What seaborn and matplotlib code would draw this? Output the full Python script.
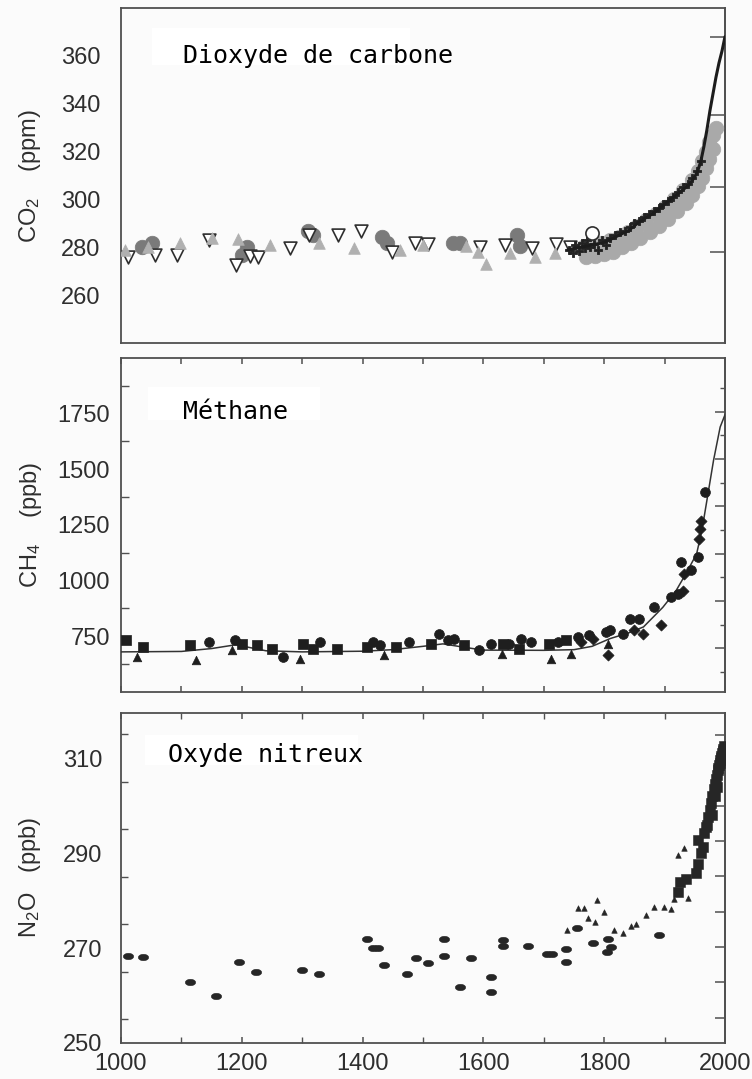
import numpy as np
import matplotlib
matplotlib.use("Agg")
import matplotlib.pyplot as plt
import seaborn as sns
from matplotlib.ticker import MultipleLocator, NullFormatter, FixedLocator
from matplotlib.patches import Rectangle
from matplotlib.path import Path

# ---------------- CO2 (ppm) ----------------
co2_tri_open_year = [1011, 1056, 1092, 1145, 1191, 1213, 1227, 1280, 1312, 1360, 1398,
                     1448, 1487, 1509, 1594, 1636, 1680, 1721, 1743]
co2_tri_open_ppm = [276.0, 276.6, 276.6, 283.0, 272.4, 276.5, 276.0, 279.6, 285.0, 285.0, 287.0,
                    278.0, 282.0, 281.5, 280.0, 281.0, 279.5, 281.5, 280.0]

co2_tri_gray_year = [1007, 1045, 1098, 1150, 1194, 1247, 1327, 1385, 1462, 1500,
                     1572, 1591, 1605, 1644, 1685, 1718]
co2_tri_gray_ppm = [278.7, 280.0, 282.0, 284.0, 283.6, 281.0, 282.0, 279.5, 278.7, 281.0,
                    280.5, 278.0, 273.0, 277.5, 276.0, 277.5]

co2_circle_year = [1034, 1051, 1200, 1208, 1310, 1318, 1432, 1440, 1550, 1562, 1655, 1660]
co2_circle_ppm = [280.0, 282.0, 276.6, 280.0, 287.0, 285.0, 284.3, 282.0, 282.0, 282.0, 285.0, 280.5]

co2_open_circle_year = [1779]
co2_open_circle_ppm = [286.0]

co2_band_year = [1765, 1780, 1795, 1810, 1825, 1840, 1855, 1870, 1885, 1900, 1915, 1930,
                 1945, 1955, 1962, 1968, 1974, 1980, 1985,
                 1770, 1785, 1800, 1815, 1830, 1845, 1860, 1875, 1890, 1905, 1920, 1935,
                 1945, 1955, 1962, 1968, 1974, 1980]
co2_band_ppm = [280.0, 281.0, 282.0, 283.0, 284.5, 286.5, 289.0, 291.5, 294.0, 297.0, 300.0, 304.0,
                308.0, 312.0, 316.0, 320.0, 324.0, 327.0, 330.0,
                276.0, 276.5, 277.0, 278.0, 280.0, 282.0, 284.0, 286.5, 289.0, 292.0, 295.0, 298.5,
                302.0, 305.5, 309.0, 313.0, 317.0, 321.0]

co2_dark_year = [1742, 1748, 1752, 1758, 1763, 1768, 1772, 1777, 1783, 1790, 1796, 1803, 1810,
                 1818, 1826, 1834, 1842, 1850, 1858, 1866, 1874, 1882, 1890, 1898, 1906, 1914,
                 1922, 1930, 1938, 1946, 1954, 1960]
co2_dark_ppm = [279.0, 277.5, 281.0, 278.5, 282.0, 279.5, 283.0, 280.0, 281.5, 279.0, 283.0, 281.0,
                284.0, 285.0, 286.5, 287.0, 288.5, 290.0, 291.0, 292.5, 294.0, 295.0, 296.5, 298.0,
                299.5, 301.0, 303.0, 305.0, 306.5, 309.0, 312.0, 316.0]

co2_line_year = [1740, 1760, 1780, 1800, 1820, 1840, 1860, 1880, 1900, 1920, 1940, 1950,
                 1955, 1960, 1965, 1970, 1975, 1980, 1985, 1990, 1995, 2000]
co2_line_ppm = [279.0, 280.0, 281.0, 282.0, 284.5, 287.0, 291.0, 294.0, 298.0, 302.0, 306.0, 309.5,
                312.0, 316.0, 322.0, 329.0, 337.0, 344.0, 351.0, 357.0, 362.0, 368.0]

# ---------------- CH4 (ppb) ----------------
ch4_square_year = [1008, 1037, 1114, 1200, 1225, 1250, 1302, 1318, 1357, 1407, 1455, 1513,
                   1568, 1632, 1659, 1709, 1737]
ch4_square_ppb = [732, 702, 710, 717, 710, 695, 717, 695, 695, 702, 702, 717,
                  710, 717, 695, 717, 732]

ch4_circle_year = [1145, 1189, 1269, 1329, 1418, 1428, 1477, 1527, 1541, 1552, 1593, 1613,
                   1643, 1662, 1679, 1723, 1756, 1775, 1803, 1809, 1831, 1842, 1858, 1883,
                   1911, 1922, 1927, 1943, 1955, 1967]
ch4_circle_ppb = [725, 732, 657, 725, 725, 710, 725, 762, 732, 740, 687, 717,
                  717, 740, 725, 725, 747, 754, 770, 777, 762, 829, 829, 881,
                  926, 940, 1083, 1046, 1106, 1397]

ch4_tri_year = [1026, 1125, 1183, 1296, 1436, 1630, 1712, 1745, 1806]
ch4_tri_ppb = [657, 642, 687, 650, 665, 672, 650, 672, 717]

ch4_diamond_year = [1762, 1781, 1806, 1850, 1864, 1894, 1930, 1932, 1957, 1958, 1961]
ch4_diamond_ppb = [725, 740, 665, 777, 762, 799, 955, 1031, 1188, 1233, 1270]

ch4_line_year = [1000, 1100, 1150, 1190, 1240, 1300, 1400, 1450, 1500, 1533, 1570, 1600,
                 1700, 1750, 1780, 1810, 1840, 1865, 1897, 1919, 1935, 1953, 1962, 1970,
                 1981, 1992, 2000]
ch4_line_ppb = [680, 682, 695, 712, 685, 680, 683, 690, 705, 716, 700, 688,
                687, 690, 705, 740, 765, 792, 880, 955, 1030, 1120, 1230, 1360,
                1540, 1690, 1745]

# ---------------- N2O (ppb) ----------------
n2o_ice_year = [1011, 1037, 1114, 1158, 1196, 1224, 1300, 1328, 1408, 1418, 1425, 1436,
                1473, 1488, 1509, 1535, 1535, 1561, 1579, 1613, 1613, 1632, 1633, 1674,
                1706, 1714, 1737, 1737, 1755, 1781, 1806, 1805, 1812, 1890]
n2o_ice_ppb = [268.3, 268.2, 262.9, 259.9, 267.1, 265.0, 265.4, 264.5, 271.8, 270.0, 270.0, 266.4,
               264.5, 267.8, 266.8, 271.9, 268.4, 261.7, 268.0, 263.8, 260.8, 270.5, 271.7, 270.4,
               268.7, 268.7, 269.8, 267.1, 274.3, 271.0, 272.0, 269.2, 270.2, 272.7]

n2o_tri_year = [1738, 1756, 1767, 1773, 1785, 1788, 1800, 1817, 1831, 1845, 1853, 1870,
                1883, 1899, 1910, 1916, 1922, 1932, 1939]
n2o_tri_ppb = [273.8, 278.4, 278.4, 276.4, 275.4, 280.1, 277.6, 273.8, 273.2, 274.6, 275.0, 277.0,
               278.6, 278.6, 278.2, 280.3, 289.6, 291.0, 280.5]

n2o_recent_year = [1922, 1925, 1935, 1952, 1955, 1955, 1960, 1963, 1966, 1968, 1970, 1972,
                   1975, 1977, 1978, 1979, 1981, 1983, 1984, 1985, 1986, 1987, 1988, 1989,
                   1990, 1991, 1992, 1993, 1994, 1995, 1996, 1997, 1998]
n2o_recent_ppb = [281.9, 284.0, 284.5, 285.7, 287.8, 292.7, 290.0, 291.3, 294.2, 295.5, 296.0, 297.5,
                  299.0, 300.5, 298.0, 302.0, 303.5, 304.5, 302.0, 305.5, 306.5, 304.0, 307.5, 308.0,
                  308.5, 309.0, 309.5, 310.0, 310.5, 311.0, 311.5, 312.0, 312.5]

BG = "#fbfbfb"
INK = "#2e2e2e"
SPINE = "#505050"

sns.set_theme(style="white")
plt.rcParams["font.family"] = ["Liberation Sans", "DejaVu Sans"]
plt.rcParams["mathtext.fontset"] = "custom"
plt.rcParams["mathtext.rm"] = "Liberation Sans"
plt.rcParams["mathtext.it"] = "Liberation Sans:italic"
plt.rcParams["mathtext.bf"] = "Liberation Sans:bold"

fig = plt.figure(figsize=(7.52, 10.79), dpi=100, facecolor=BG)
ax_co2 = fig.add_axes([0.1609, 0.6821, 0.8032, 0.3105])
ax_ch4 = fig.add_axes([0.1609, 0.3587, 0.8032, 0.3095])
ax_n2o = fig.add_axes([0.1609, 0.0334, 0.8032, 0.3058])

for ax in (ax_co2, ax_ch4, ax_n2o):
    ax.set_facecolor(BG)
    ax.set_xlim(1000, 2000)
    for sp in ax.spines.values():
        sp.set_color(SPINE)
        sp.set_linewidth(1.3)
    ax.tick_params(colors=SPINE, labelcolor=INK, labelsize=17, direction="in", width=1.1)
    ax.set_xlabel("")


def label_box(ax, x0, y0, x1, y1, text, tx, ty):
    ax.add_patch(Rectangle((x0, y0), x1 - x0, y1 - y0, transform=ax.transAxes,
                           facecolor="white", edgecolor="none", zorder=1))
    ax.text(tx, ty, text, transform=ax.transAxes, ha="left", va="baseline",
            fontsize=18, color="black", family="DejaVu Sans Mono", zorder=2)


ellipse_t = np.linspace(0, 2 * np.pi, 40)
ellipse_marker = Path(np.column_stack([np.cos(ellipse_t), 0.62 * np.sin(ellipse_t)]))

# ---------- carbon dioxide ----------
ax = ax_co2
ax.set_ylim(240, 380)
label_box(ax, 0.0513, 0.830, 0.4785, 0.940, "Dioxyde de carbone", 0.1026, 0.836)
sns.scatterplot(x=co2_circle_year, y=co2_circle_ppm, ax=ax, marker="o", s=110,
                color="#7a7a7a", edgecolor="#7a7a7a", linewidth=0.5, zorder=3)
sns.scatterplot(x=co2_tri_open_year, y=co2_tri_open_ppm, ax=ax, marker="v", s=85,
                color="white", edgecolor="#2e2e2e", linewidth=1.2, zorder=4)
sns.scatterplot(x=co2_tri_gray_year, y=co2_tri_gray_ppm, ax=ax, marker="^", s=70,
                color="#b0b0b0", edgecolor="#b0b0b0", linewidth=0.5, zorder=5)
sns.scatterplot(x=co2_band_year, y=co2_band_ppm, ax=ax, marker="o", s=110,
                color="#a9a9a9", edgecolor="#a9a9a9", linewidth=0.5, zorder=3)
sns.scatterplot(x=co2_dark_year, y=co2_dark_ppm, ax=ax, marker="P", s=34,
                color="#222222", edgecolor="#222222", linewidth=0.6, zorder=6)
sns.scatterplot(x=co2_open_circle_year, y=co2_open_circle_ppm, ax=ax, marker="o", s=90,
                color="white", edgecolor="#2e2e2e", linewidth=1.2, zorder=6)
sns.lineplot(x=co2_line_year, y=co2_line_ppm, ax=ax, color="#1c1c1c", lw=2.2,
             estimator=None, zorder=7)
ax.set_xticks([1200, 1400, 1600, 1800])
ax.set_yticks([260, 280, 300, 320, 340, 360])
ax.tick_params(axis="x", labelbottom=False, length=9)
ax.tick_params(axis="y", length=11, pad=15)
ax.set_ylabel("CO$_2$    (ppm)", fontsize=17, color=INK)
ax.yaxis.set_label_coords(-0.129, 0.5)
sec = ax.secondary_yaxis("right", functions=(lambda c: 5.35 * np.log(np.clip(c, 1e-6, None) / 278.0),
                                             lambda f: 278.0 * np.exp(f / 5.35)))
sec.set_yticks([0.0, 0.5, 1.0, 1.5])
sec.yaxis.set_major_formatter(NullFormatter())
sec.tick_params(direction="in", length=11, width=1.1, colors=SPINE)
sec.spines["right"].set_color(SPINE)
sec.spines["right"].set_linewidth(1.3)

# ---------- methane ----------
ax = ax_ch4
ax.set_ylim(500, 2000)
label_box(ax, 0.0446, 0.814, 0.33, 0.913, "Méthane", 0.102, 0.817)
sns.lineplot(x=ch4_line_year, y=ch4_line_ppb, ax=ax, color="#333333", lw=1.1,
             estimator=None, zorder=3)
sns.scatterplot(x=ch4_square_year, y=ch4_square_ppb, ax=ax, marker="s", s=45,
                color="#1e1e1e", edgecolor="#1e1e1e", linewidth=0.5, zorder=4)
sns.scatterplot(x=ch4_circle_year, y=ch4_circle_ppb, ax=ax, marker="o", s=50,
                color="#1e1e1e", edgecolor="#1e1e1e", linewidth=0.5, zorder=4)
sns.scatterplot(x=ch4_tri_year, y=ch4_tri_ppb, ax=ax, marker="^", s=38,
                color="#1e1e1e", edgecolor="#1e1e1e", linewidth=0.5, zorder=4)
sns.scatterplot(x=ch4_diamond_year, y=ch4_diamond_ppb, ax=ax, marker="D", s=32,
                color="#1e1e1e", edgecolor="#1e1e1e", linewidth=0.5, zorder=4)
ax.xaxis.set_major_locator(MultipleLocator(100))
ax.tick_params(axis="x", labelbottom=False, top=True, bottom=True, length=4)
ax.yaxis.set_major_locator(FixedLocator([750, 1000, 1250, 1500, 1750]))
ax.yaxis.set_minor_locator(FixedLocator([625, 875, 1125, 1375, 1625, 1875]))
ax.tick_params(axis="y", which="major", length=9, pad=8)
ax.tick_params(axis="y", which="minor", left=True, length=5.5, width=1.0,
               direction="in", colors=SPINE)
ax.set_ylabel("CH$_4$    (ppb)", fontsize=17, color=INK)
ax.yaxis.set_label_coords(-0.127, 0.5)
sec = ax.secondary_yaxis("right", functions=(lambda m: (m - 696.0) / 1062.5,
                                             lambda f: f * 1062.5 + 696.0))
sec.yaxis.set_major_locator(FixedLocator([0.0, 0.2, 0.4, 0.6, 0.8, 1.0]))
sec.yaxis.set_minor_locator(FixedLocator([-0.1, 0.1, 0.3, 0.5, 0.7, 0.9, 1.1]))
sec.yaxis.set_major_formatter(NullFormatter())
sec.tick_params(which="major", direction="in", length=7, width=1.1, colors=SPINE)
sec.tick_params(which="minor", direction="in", length=3.5, width=1.0, colors=SPINE)
sec.spines["right"].set_color(SPINE)
sec.spines["right"].set_linewidth(1.3)

# ---------- nitrous oxide ----------
ax = ax_n2o
ax.set_ylim(250, 319.5)
label_box(ax, 0.0397, 0.842, 0.392, 0.933, "Oxyde nitreux", 0.078, 0.8515)
sns.scatterplot(x=n2o_ice_year, y=n2o_ice_ppb, ax=ax, marker=ellipse_marker, s=55,
                color="#262626", edgecolor="#262626", linewidth=0.4, zorder=4)
sns.scatterplot(x=n2o_tri_year, y=n2o_tri_ppb, ax=ax, marker="^", s=16,
                color="#262626", edgecolor="#262626", linewidth=0.4, zorder=4)
sns.scatterplot(x=n2o_recent_year, y=n2o_recent_ppb, ax=ax, marker="s", s=42,
                color="#262626", edgecolor="#262626", linewidth=0.4, zorder=4)
ax.xaxis.set_major_locator(FixedLocator([1000, 1200, 1400, 1600, 1800, 2000]))
ax.xaxis.set_minor_locator(FixedLocator([1100, 1300, 1500, 1700, 1900]))
ax.tick_params(axis="x", which="both", top=True, bottom=True, length=4, pad=7)
ax.tick_params(axis="x", which="minor", direction="in", width=1.0, colors=SPINE)
ax.yaxis.set_major_locator(FixedLocator([250, 260, 270, 280, 290, 300, 310]))
ax.set_yticklabels(["250", "", "270", "", "290", "", "310"])
ax.yaxis.set_minor_locator(FixedLocator([255, 265, 275, 285, 295, 305, 315]))
ax.tick_params(axis="y", which="major", length=9, pad=13.5)
ax.tick_params(axis="y", which="minor", left=True, length=5, width=1.0,
               direction="in", colors=SPINE)
ax.set_ylabel("N$_2$O   (ppb)", fontsize=17, color=INK)
ax.yaxis.set_label_coords(-0.129, 0.5)
sec = ax.secondary_yaxis("right", functions=(lambda n: (n - 270.2) / 74.4,
                                             lambda f: f * 74.4 + 270.2))
sec.yaxis.set_major_locator(FixedLocator([-0.2, -0.1, 0.0, 0.1, 0.2, 0.3, 0.4, 0.5, 0.6]))
sec.yaxis.set_major_formatter(NullFormatter())
sec.tick_params(direction="in", length=7, width=1.1, colors=SPINE)
sec.spines["right"].set_color(SPINE)
sec.spines["right"].set_linewidth(1.3)

fig.savefig("out.png", dpi=100, facecolor=BG)
